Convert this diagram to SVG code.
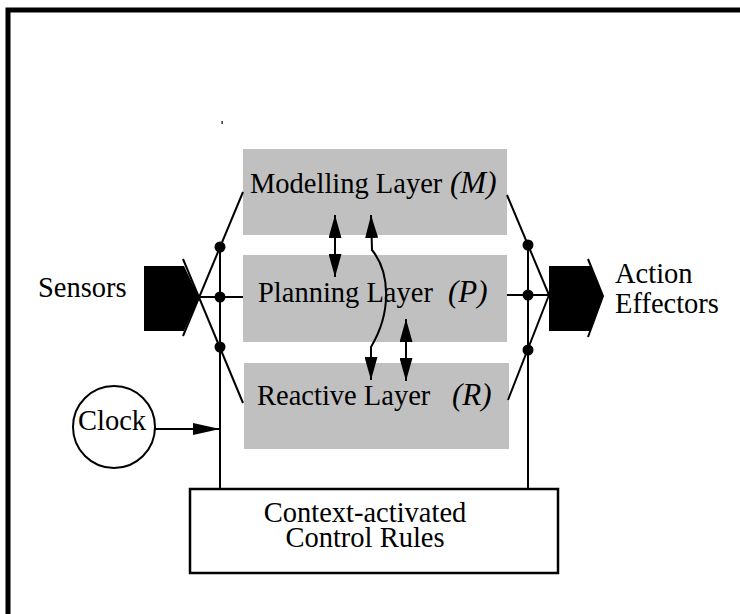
<svg xmlns="http://www.w3.org/2000/svg" width="740" height="614" viewBox="0 0 740 614">
<style>
text{font-family:"Liberation Serif","Times New Roman",serif;font-size:28.5px;fill:#000}
.it{font-style:italic;font-size:31px}
.layer{fill:#c0c0c0;stroke:none}
.ln{stroke:#000;stroke-width:2;fill:none}
.dot{fill:#000}
</style>
<defs>
<marker id="ah" markerUnits="userSpaceOnUse" markerWidth="23" markerHeight="13" viewBox="0 0 23 13" refX="23" refY="6.5" orient="auto-start-reverse">
<path d="M0,0 L23,6.5 L0,13 z" fill="#000"/>
</marker>
<marker id="ahc" markerUnits="userSpaceOnUse" markerWidth="27" markerHeight="12" viewBox="0 0 27 12" refX="27" refY="6" orient="auto">
<path d="M0,0 L27,6 L0,12 z" fill="#000"/>
</marker>
</defs>
<rect width="740" height="614" fill="#fff"/>
<path id="frame" d="M8 614 V10 H740" fill="none" stroke="#000" stroke-width="5"/>
<rect x="221.5" y="121" width="1.2" height="3" fill="#000"/>

<g id="modelling">
<rect class="layer" x="243" y="149" width="264" height="86"/>
<text x="250" y="193">Modelling Layer</text>
<text class="it" x="450" y="193">(M)</text>
</g>
<g id="planning">
<rect class="layer" x="243" y="255" width="264" height="87"/>
<text x="258" y="302">Planning Layer</text>
<text class="it" x="448" y="302">(P)</text>
</g>
<g id="reactive">
<rect class="layer" x="244" y="363" width="265" height="86"/>
<text x="257" y="405">Reactive Layer</text>
<text class="it" x="452" y="405">(R)</text>
</g>

<g id="sensors">
<polygon points="144,266 184,266 199,297.5 184,331 144,331" fill="#000"/>
<text x="38" y="297">Sensors</text>
</g>
<g id="effectors">
<polygon points="549,266 590,266 603,296 590,331 549,331" fill="#000"/>
<polyline class="ln" points="588,259 603,296 588,337"/>
<text x="615" y="283">Action<tspan x="615" y="313">Effectors</tspan></text>
</g>
<g id="clock">
<circle cx="114" cy="427" r="41" fill="#fff" stroke="#000" stroke-width="2"/>
<text x="112" y="430" text-anchor="middle">Clock</text>
</g>
<g id="control">
<rect x="190" y="489" width="368" height="84" fill="#fff" stroke="#000" stroke-width="2.5"/>
<text x="365" y="522" text-anchor="middle">Context-activated<tspan x="365" y="547">Control Rules</tspan></text>
</g>

<g id="connectors">
<line class="ln" x1="243" y1="192" x2="183" y2="336"/>
<line class="ln" x1="243" y1="403" x2="183" y2="259"/>
<line class="ln" x1="199" y1="297" x2="243" y2="297"/>
<line class="ln" x1="220" y1="247" x2="220" y2="489"/>
<line class="ln" x1="507" y1="195" x2="549" y2="295"/>
<line class="ln" x1="508" y1="400" x2="549" y2="295"/>
<line class="ln" x1="507" y1="295" x2="549" y2="295"/>
<line class="ln" x1="528" y1="245" x2="528" y2="489"/>
<circle class="dot" cx="220" cy="247" r="5.5"/>
<circle class="dot" cx="220" cy="297" r="5.5"/>
<circle class="dot" cx="220" cy="347" r="5.5"/>
<circle class="dot" cx="528" cy="245" r="5.5"/>
<circle class="dot" cx="528" cy="295" r="5.5"/>
<circle class="dot" cx="528" cy="350" r="5.5"/>
<line class="ln" x1="155" y1="429" x2="220" y2="429" marker-end="url(#ahc)"/>
<line class="ln" x1="335" y1="215" x2="335" y2="277" marker-start="url(#ah)" marker-end="url(#ah)"/>
<line class="ln" x1="406" y1="319" x2="406" y2="381" marker-start="url(#ah)" marker-end="url(#ah)"/>
<path class="ln" d="M371 215 L372 250 C390 272 392 312 371 347 L371 380" marker-start="url(#ah)" marker-end="url(#ah)"/>
</g>
</svg>
